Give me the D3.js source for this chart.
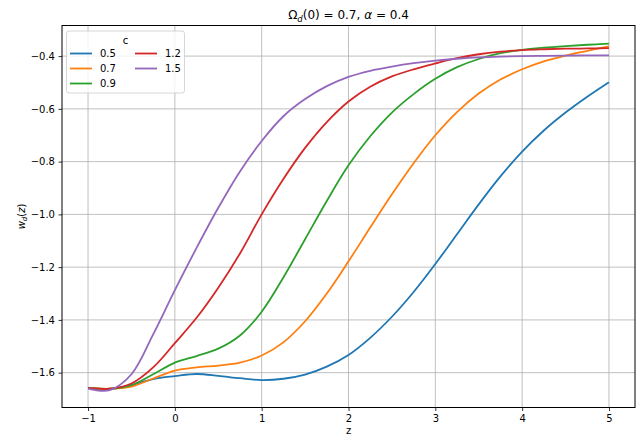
<!DOCTYPE html>
<html>
<head>
<meta charset="utf-8">
<script src="https://cdn.jsdelivr.net/npm/d3@7"></script>
<style>
  html, body { margin: 0; padding: 0; background: #fff; }
  svg { display: block; font-family: "DejaVu Sans", sans-serif; }
</style>
</head>
<body>
<svg id="chart" width="640" height="440"></svg>
<script>
// Redshift grid shared by every curve
const zValues = [-1, -0.75, -0.5, -0.25, 0, 0.25, 0.5, 0.75, 1, 1.25, 1.5, 1.75, 2,
                 2.25, 2.5, 2.75, 3, 3.25, 3.5, 3.75, 4, 4.25, 4.5, 4.75, 5];

// Equation-of-state w_d(z) for each value of c
const cLabels = ["0.5", "0.7", "0.9", "1.2", "1.5"];
const wC05 = [-1.658, -1.662, -1.647, -1.624, -1.613, -1.605, -1.612, -1.621, -1.628, -1.623,
              -1.607, -1.577, -1.533, -1.468, -1.388, -1.294, -1.188, -1.075, -0.962, -0.856,
              -0.762, -0.682, -0.614, -0.554, -0.499];
const wC07 = [-1.658, -1.661, -1.653, -1.622, -1.592, -1.580, -1.573, -1.562, -1.535, -1.485,
              -1.405, -1.300, -1.178, -1.050, -0.924, -0.806, -0.700, -0.612, -0.542, -0.489,
              -0.450, -0.420, -0.398, -0.380, -0.363];
const wC09 = [-1.658, -1.661, -1.647, -1.606, -1.562, -1.537, -1.509, -1.459, -1.369, -1.239,
              -1.094, -0.949, -0.814, -0.704, -0.614, -0.544, -0.486, -0.442, -0.411, -0.389,
              -0.376, -0.368, -0.362, -0.357, -0.353];
const wC12 = [-1.658, -1.661, -1.641, -1.580, -1.488, -1.392, -1.278, -1.148, -1.000, -0.866,
              -0.748, -0.650, -0.572, -0.516, -0.477, -0.450, -0.428, -0.408, -0.393, -0.383,
              -0.377, -0.374, -0.372, -0.371, -0.370];
const wC15 = [-1.660, -1.666, -1.606, -1.455, -1.287, -1.127, -0.975, -0.837, -0.722, -0.628,
              -0.563, -0.514, -0.479, -0.456, -0.440, -0.427, -0.417, -0.410, -0.405, -0.402,
              -0.400, -0.399, -0.398, -0.397, -0.397];
const seriesValues = [wC05, wC07, wC09, wC12, wC15];
const colors = ["#1f77b4", "#ff7f0e", "#2ca02c", "#d62728", "#9467bd"];

const xTicks = [-1, 0, 1, 2, 3, 4, 5];
const yTicks = [-1.6, -1.4, -1.2, -1.0, -0.8, -0.6, -0.4];

const margin = { left: 62, right: 5, top: 25.5, bottom: 32.5 };
const W = 640, H = 440;
const svg = d3.select("#chart");

const x = d3.scaleLinear().domain([-1.3, 5.3]).range([margin.left, W - margin.right]);
const y = d3.scaleLinear().domain([-1.732, -0.284]).range([H - margin.bottom, margin.top]);

const fmt = v => (v < 0 ? "\u2212" : "") + Math.abs(v).toFixed(1);
const fmtX = v => (v < 0 ? "\u2212" : "") + Math.abs(v);

// grid
const grid = svg.append("g");
grid.selectAll("line.gx").data(xTicks).join("line")
  .attr("x1", d => x(d)).attr("x2", d => x(d))
  .attr("y1", margin.top).attr("y2", H - margin.bottom)
  .attr("stroke", "#b0b0b0").attr("stroke-width", 0.8);
grid.selectAll("line.gy").data(yTicks).join("line")
  .attr("y1", d => y(d)).attr("y2", d => y(d))
  .attr("x1", margin.left).attr("x2", W - margin.right)
  .attr("stroke", "#b0b0b0").attr("stroke-width", 0.8);

// curves
const line = d3.line()
  .x((d, i) => x(zValues[i]))
  .y(d => y(d))
  .curve(d3.curveCatmullRom.alpha(0.5));

svg.append("g").selectAll("path").data(seriesValues).join("path")
  .attr("d", d => line(d))
  .attr("fill", "none")
  .attr("stroke", (d, i) => colors[i])
  .attr("stroke-width", 1.8)
  .attr("stroke-linejoin", "round")
  .attr("stroke-linecap", "butt");

// axes
const xAxis = d3.axisBottom(x).tickValues(xTicks).tickFormat(fmtX).tickSize(3.5).tickPadding(3.5);
const yAxis = d3.axisLeft(y).tickValues(yTicks).tickFormat(fmt).tickSize(3.5).tickPadding(3.5);

const gx = svg.append("g").attr("transform", `translate(0,${H - margin.bottom})`).call(xAxis);
const gy = svg.append("g").attr("transform", `translate(${margin.left},0)`).call(yAxis);
[gx, gy].forEach(g => {
  g.select(".domain").remove();
  g.selectAll("line").attr("stroke", "#000").attr("stroke-width", 0.8);
  g.selectAll("text").attr("fill", "#000").attr("font-size", 10)
    .attr("font-family", "DejaVu Sans, sans-serif");
});

// frame
svg.append("rect")
  .attr("x", margin.left).attr("y", margin.top)
  .attr("width", W - margin.right - margin.left)
  .attr("height", H - margin.bottom - margin.top)
  .attr("fill", "none").attr("stroke", "#000").attr("stroke-width", 1);

// title
const title = svg.append("text")
  .attr("x", (margin.left + W - margin.right) / 2).attr("y", 19)
  .attr("text-anchor", "middle").attr("font-size", 12).attr("fill", "#000");
title.append("tspan").text("\u03A9");
title.append("tspan").attr("font-style", "italic").attr("font-size", 8.5).attr("dy", 2.5).text("d");
title.append("tspan").attr("dy", -2.5).text("(0) = 0.7, ");
title.append("tspan").attr("font-style", "italic").text("\u03B1");
title.append("tspan").text(" = 0.4");

// axis labels
svg.append("text")
  .attr("x", (margin.left + W - margin.right) / 2).attr("y", 434)
  .attr("text-anchor", "middle").attr("font-size", 10).attr("fill", "#000")
  .text("z");

const yl = svg.append("text")
  .attr("transform", `translate(25,${(margin.top + H - margin.bottom) / 2}) rotate(-90)`)
  .attr("text-anchor", "middle").attr("font-size", 10).attr("fill", "#000");
yl.append("tspan").attr("font-style", "italic").text("w");
yl.append("tspan").attr("font-style", "italic").attr("font-size", 7).attr("dy", 2).text("d");
yl.append("tspan").attr("dy", -2).text("(");
yl.append("tspan").attr("font-style", "italic").text("z");
yl.append("tspan").text(")");

// legend
const lg = svg.append("g");
lg.append("rect")
  .attr("x", 66.5).attr("y", 31).attr("width", 118).attr("height", 62).attr("rx", 2.5)
  .attr("fill", "#fff").attr("fill-opacity", 0.8)
  .attr("stroke", "#cccccc").attr("stroke-width", 0.8);
lg.append("text").attr("x", 125.5).attr("y", 43.5).attr("text-anchor", "middle")
  .attr("font-size", 10).attr("fill", "#000").text("c");

const cols = [0, 0, 0, 1, 1], rows = [0, 1, 2, 0, 1];
const items = lg.selectAll("g.item").data(cLabels).join("g")
  .attr("transform", (d, i) => `translate(${70 + cols[i] * 65},${53.5 + rows[i] * 15})`);
items.append("line")
  .attr("x1", 0).attr("x2", 22).attr("y1", 0).attr("y2", 0)
  .attr("stroke", (d, i) => colors[i]).attr("stroke-width", 1.8);
items.append("text")
  .attr("x", 30).attr("y", 3.6).attr("font-size", 10).attr("fill", "#000")
  .text(d => d);
</script>
</body>
</html>
